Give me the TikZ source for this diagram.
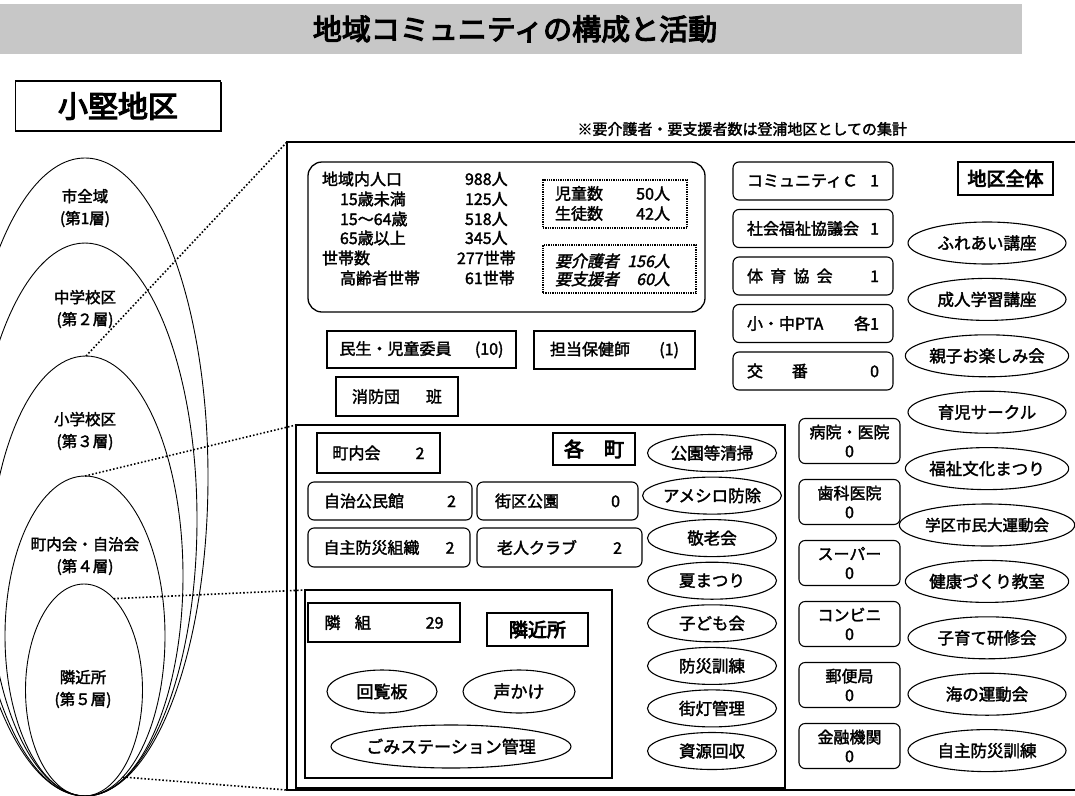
\documentclass[tikz,border=0pt]{standalone}
\usepackage{fontspec}
\setmainfont{Noto Sans CJK JP}[FakeBold=2]
\newfontfamily\jpbf{Noto Sans CJK JP}[FakeBold=4]
\newfontfamily\jpit{Noto Sans CJK JP}[FakeSlant=0.22,FakeBold=2]
\usetikzlibrary{shapes.geometric,shadows}
\begin{document}
\begin{tikzpicture}[x=1pt,y=-1pt,
  every node/.style={inner sep=0pt, outer sep=0pt, font=\fontsize{16}{20}\selectfont},
  sq/.style={draw, line width=1.1pt, rectangle, fill=white,
    drop shadow={shadow xshift=1.4pt, shadow yshift=-1.4pt, fill=black, opacity=1}},
  rbox/.style={draw, line width=1.1pt, rounded corners=6pt, fill=white},
  dbox/.style={draw, line width=1.3pt, densely dotted},
  oval/.style={draw, ellipse, line width=1.1pt, fill=white, font=\fontsize{17}{20}\selectfont},
  coval/.style={draw, ellipse, line width=1.1pt, fill=white, font=\fontsize{16.5}{20}\selectfont, minimum width=129pt, minimum height=37pt},
  roval/.style={draw, ellipse, line width=1.1pt, fill=white, font=\fontsize{16.5}{20}\selectfont, minimum width=158pt, minimum height=42pt},
  layer/.style={draw, ellipse, line width=0.9pt},
  lbl/.style={align=center, font=\fontsize{15.5}{22}\selectfont},
  dotline/.style={line width=1.6pt, dotted},
  colbox/.style={rbox, minimum width=160pt, minimum height=38pt},
  midbox/.style={rbox, minimum width=101pt, minimum height=45pt, align=center, font=\fontsize{16}{19}\selectfont},
  label box/.style={sq, font={\jpbf\fontsize{19}{20}\selectfont}},
]
\useasboundingbox (0,0) rectangle (1075,795);

% ---- banner and titles
\node[fill=black!22, minimum width=1022pt, minimum height=50pt] (banner) at (511,29) {};
\node[font={\jpbf\fontsize{29}{30}\selectfont}] (title) at (515,29) {地域コミュニティの構成と活動};
\node[sq, line width=1.6pt, minimum width=205pt, minimum height=50pt, font={\jpbf\fontsize{30}{32}\selectfont}] (area) at (118,106) {小堅地区};
\node[anchor=east, font=\fontsize{15}{16}\selectfont] (note) at (907,129) {※要介護者・要支援者数は登浦地区としての集計};

% ---- layer ellipses
\node[layer, minimum width=246pt, minimum height=638pt] (E1) at (85,477) {};
\node[layer, minimum width=224pt, minimum height=553pt] (E2) at (85,519.5) {};
\node[layer, minimum width=194pt, minimum height=440pt] (E3) at (86,576) {};
\node[layer, minimum width=160pt, minimum height=320pt] (E4) at (85,636) {};
\node[layer, minimum width=117pt, minimum height=212pt] (E5) at (84,690) {};
\node[lbl] (L1) at (85,208) {市全域\\(第1層)};
\node[lbl] (L2) at (85,309) {中学校区\\(第２層)};
\node[lbl] (L3) at (85,431) {小学校区\\(第３層)};
\node[lbl] (L4) at (85,556) {町内会・自治会\\(第４層)};
\node[lbl] (L5) at (83,689) {隣近所\\(第５層)};

% ---- outer frame
\coordinate (oTL) at (287,142);
\coordinate (oBL) at (287,790);
\coordinate (oTR) at (1075,142);
\coordinate (oBR) at (1075,790);
\draw[line width=1.4pt] (oTR) -- (oTL) -- (oBL) -- (oBR);

% ---- statistics box
\node[draw, line width=1.3pt, rounded corners=14pt, minimum width=397pt, minimum height=150pt] (stats) at (506.5,237) {};
\node[anchor=west] (s1) at (322,179) {地域内人口};
\node[anchor=west] (s2) at (340,199) {15歳未満};
\node[anchor=west] (s3) at (340,219) {15～64歳};
\node[anchor=west] (s4) at (340,238) {65歳以上};
\node[anchor=west] (s5) at (322,258) {世帯数};
\node[anchor=west] (s6) at (340,278) {高齢者世帯};
\node[anchor=west] (n1) at (465,179) {988人};
\node[anchor=west] (n2) at (465,199) {125人};
\node[anchor=west] (n3) at (465,219) {518人};
\node[anchor=west] (n4) at (465,238) {345人};
\node[anchor=west] (n5) at (457,258) {277世帯};
\node[anchor=west] (n6) at (465,278) {61世帯};
\node[dbox, minimum width=144pt, minimum height=48pt] (kids) at (615,204) {};
\node[align=left] (kidst) at (612.5,203.5) {\makebox[115pt]{児童数\hfill 50人}\\\makebox[115pt]{生徒数\hfill 42人}};
\node[dbox, minimum width=153pt, minimum height=48pt] (care) at (619.5,269) {};
\node[align=left, font={\jpit\fontsize{16}{18}\selectfont}] (caret) at (612.5,270) {\makebox[115pt]{要介護者\hfill 156人}\\\makebox[115pt]{要支援者\hfill 60人}};

\node[sq, minimum width=189pt, minimum height=37pt] (minsei) at (421.5,349.5) {\makebox[164pt]{民生・児童委員\hfill (10)}};
\node[sq, minimum width=161pt, minimum height=38pt] (hoken) at (614.5,350) {\makebox[129pt]{担当保健師\hfill (1)}};
\node[sq, minimum width=122pt, minimum height=39pt] (shobo) at (397,396.5) {\makebox[90pt]{消防団\hfill 班}};

% ---- district-wide column
\node[colbox] (comm) at (813,181) {\makebox[132pt]{コミュニティＣ\hfill 1}};
\node[colbox] (shakyo) at (813,228.5) {\makebox[132pt]{社会福祉協議会\hfill 1}};
\node[colbox] (taiiku) at (813,276) {\makebox[132pt]{体\hspace{0.45em}育\hspace{0.45em}協\hspace{0.45em}会\hfill 1}};
\node[colbox] (pta) at (813,323.5) {\makebox[132pt]{小・中PTA\hfill 各1}};
\node[colbox] (koban) at (813,371) {\makebox[132pt]{交\hspace{1.8em}番\hfill 0}};
\node[label box, minimum width=95pt, minimum height=33pt] (zentai) at (1005.5,178.5) {地区全体};

\node[midbox] (byoin) at (849.5,441) {病院・医院\\0};
\node[midbox] (shika) at (849.5,502) {歯科医院\\0};
\node[midbox] (super) at (849.5,563) {スーパー\\0};
\node[midbox] (konbini) at (849.5,624) {コンビニ\\0};
\node[midbox] (yubin) at (849.5,685) {郵便局\\0};
\node[midbox] (kinyu) at (849.5,746) {金融機関\\0};

\node[roval] (r1) at (987,243) {ふれあい講座};
\node[roval] (r2) at (987,299.4) {成人学習講座};
\node[roval] (r3) at (987,355.8) {親子お楽しみ会};
\node[roval] (r4) at (987,412.2) {育児サークル};
\node[roval] (r5) at (987,468.6) {福祉文化まつり};
\node[roval, font=\fontsize{15.5}{20}\selectfont] (r6) at (987,525) {学区市民大運動会};
\node[roval] (r7) at (987,581.4) {健康づくり教室};
\node[roval] (r8) at (987,637.8) {子育て研修会};
\node[roval] (r9) at (987,694.2) {海の運動会};
\node[roval] (r10) at (987,750.6) {自主防災訓練};

% ---- each town
\node[sq, line width=1.3pt, minimum width=489pt, minimum height=363pt] (town) at (540.5,606.5) {};
\node[sq, minimum width=123pt, minimum height=40pt] (chonai) at (378.5,453) {\makebox[92pt]{町内会\hfill 2}};
\node[label box, minimum width=82pt, minimum height=32pt, font={\jpbf\fontsize{20}{22}\selectfont}] (kakucho) at (594,449) {各\hspace{1em}町};
\node[rbox, minimum width=164pt, minimum height=38pt] (kominkan) at (390,501) {\makebox[132pt]{自治公民館\hfill 2}};
\node[rbox, minimum width=161pt, minimum height=38pt] (gaiku) at (557.5,501) {\makebox[125pt]{街区公園\hfill 0}};
\node[rbox, minimum width=162pt, minimum height=39pt] (jishubo) at (389,547.5) {\makebox[131pt]{自主防災組織\hfill 2}};
\node[rbox, minimum width=165pt, minimum height=39pt] (roujin) at (559.5,547.5) {\makebox[125pt]{老人クラブ\hfill 2}};

\node[coval] (c1) at (712,453) {公園等清掃};
\node[coval] (c2) at (712,495.6) {アメシロ防除};
\node[coval] (c3) at (712,538.1) {敬老会};
\node[coval] (c4) at (712,580.7) {夏まつり};
\node[coval] (c5) at (712,623.3) {子ども会};
\node[coval] (c6) at (712,665.9) {防災訓練};
\node[coval] (c7) at (712,708.4) {街灯管理};
\node[coval] (c8) at (712,751) {資源回収};

% ---- neighbourhood
\node[sq, minimum width=307pt, minimum height=188pt] (kinjo) at (458.5,684) {};
\node[sq, minimum width=152pt, minimum height=39pt] (kumi) at (384,622.5) {\makebox[119pt]{隣\hspace{0.9em}組\hfill 29}};
\node[label box, minimum width=101pt, minimum height=33pt] (kinjolbl) at (537.5,629.5) {隣近所};
\node[oval, minimum width=110pt, minimum height=43pt] (kairan) at (382,691.5) {回覧板};
\node[oval, minimum width=112pt, minimum height=43pt] (koe) at (519,691.5) {声かけ};
\node[oval, minimum width=232pt, minimum height=43pt] (gomi) at (451,746.5) {ごみステーション管理};

% ---- dotted leader lines
\draw[dotline] (E3.north) -- (oTL);
\draw[dotline] (E4.north) -- (town.north west);
\draw[dotline] (E5.72) -- (kinjo.north west);
\draw[dotline] (E4.-75) -- (oBL);
\end{tikzpicture}
\end{document}
